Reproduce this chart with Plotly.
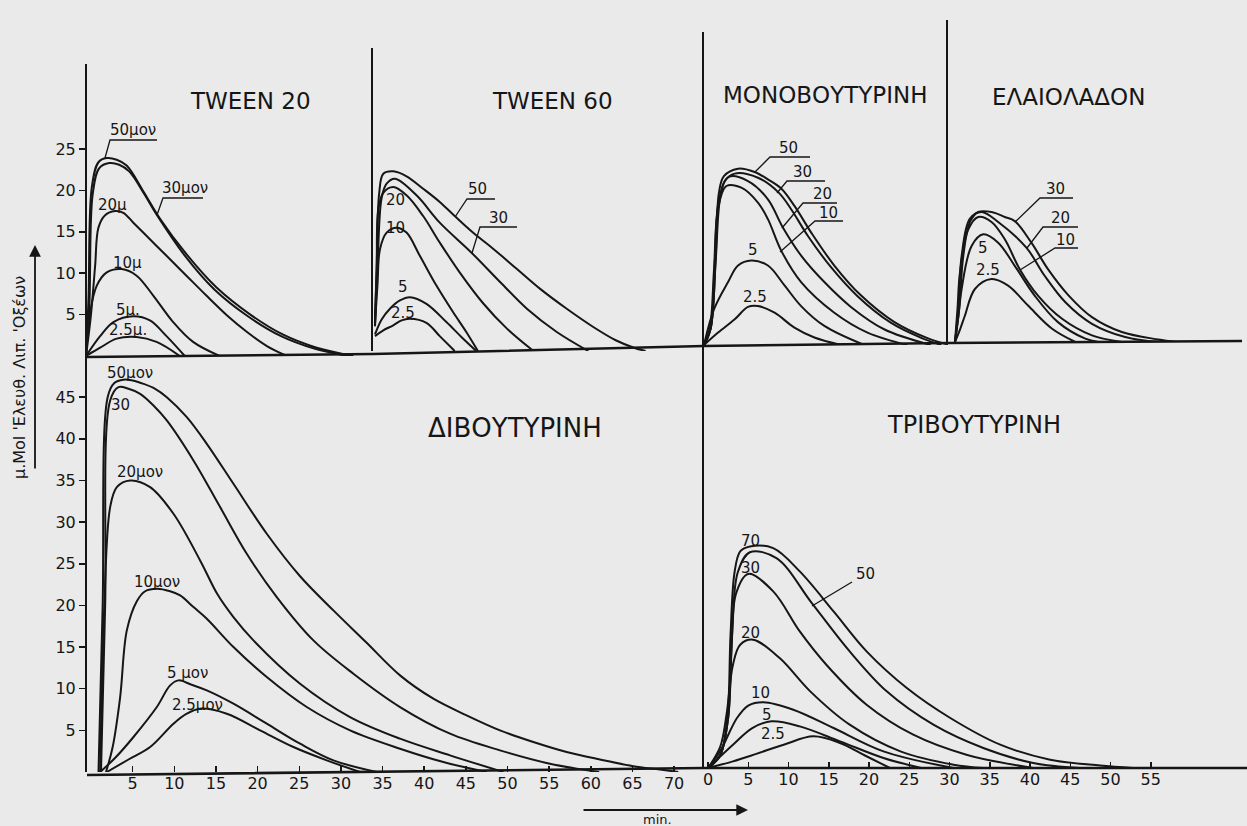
import plotly.graph_objects as go

W, H = 1247, 826
INK = "#161616"
BG = "#eaeaea"
FONT = "DejaVu Sans, Liberation Sans, sans-serif"

# ---------------- data (time in min, value in μMol) ----------------
# TWEEN 20
tw20_50_t = [0, 0.3, 0.7, 1.5, 2.5, 3.7, 4.9, 6.9, 8.9, 12.1, 15.7, 19.8, 23.7, 27.8, 32.2]
tw20_50_y = [0, 6.9, 20.4, 23.4, 23.9, 23.7, 23.0, 19.9, 16.6, 12.3, 8.3, 5.0, 2.6, 1.0, 0]
tw20_30_t = [0, 0.4, 0.8, 1.6, 2.8, 4.0, 5.2, 7.0, 8.5, 12.0, 15.5, 19.5, 23.5, 27.5, 31.5]
tw20_30_y = [0, 6.0, 19.5, 22.7, 23.3, 23.1, 22.3, 19.6, 17.1, 12.0, 8.0, 4.8, 2.4, 0.9, 0]
tw20_20_t = [0, 0.6, 1.1, 1.5, 2.3, 3.5, 4.5, 5.7, 7.7, 9.7, 12.1, 14.5, 17.0, 19.4, 21.8, 24.2]
tw20_20_y = [0, 5.0, 10.9, 15.5, 17.0, 17.5, 17.3, 16.1, 14.1, 12.1, 9.7, 7.3, 4.9, 2.9, 1.2, 0]
tw20_10_t = [0, 0.5, 1.3, 2.5, 4.3, 6.1, 8.1, 10.5, 12.9, 16.1]
tw20_10_y = [0, 5.3, 8.5, 10.1, 10.5, 9.7, 7.3, 4.1, 1.7, 0]
tw20_5_t = [0, 1.7, 3.3, 5.7, 7.7, 9.7, 11.9]
tw20_5_y = [0, 2.4, 4.1, 4.8, 4.3, 2.4, 0]
tw20_25_t = [0, 1.7, 3.7, 6.1, 8.5, 11.3]
tw20_25_y = [0, 1.0, 2.1, 2.3, 1.7, 0]

# TWEEN 60
tw60_50_t = [0, 0.2, 0.5, 1.0, 2.2, 3.8, 5.8, 7.8, 9.6, 11.8, 14.3, 17.1, 19.9, 23.1, 26.3, 29.0, 31.2, 32.6]
tw60_50_y = [3, 10, 19, 21.4, 21.7, 21.1, 19.6, 18.0, 16.3, 14.3, 12.3, 9.9, 7.5, 5.1, 2.9, 1.3, 0.4, 0]
tw60_30_t = [0, 0.3, 0.8, 1.4, 2.4, 5.0, 7.8, 11.6, 15.1, 18.3, 21.9, 25.7]
tw60_30_y = [3, 10, 18.5, 20.2, 20.8, 18.8, 15.5, 11.9, 8.3, 5.1, 2.3, 0]
tw60_20_t = [0, 0.2, 0.4, 1.0, 2.2, 3.8, 5.8, 7.8, 10.2, 13.0, 15.9, 19.1]
tw60_20_y = [4, 10, 17.1, 19.1, 19.8, 18.8, 16.3, 13.1, 9.5, 5.8, 2.7, 0]
tw60_10_t = [0, 0.3, 0.6, 1.4, 2.6, 3.8, 5.4, 7.4, 9.4, 11.0, 12.4]
tw60_10_y = [3.3, 8, 12.3, 14.3, 14.9, 14.3, 11.5, 7.9, 4.7, 2.3, 0]
tw60_5_t = [0, 0.8, 1.8, 3.0, 4.2, 6.2, 8.6, 10.5, 12.2]
tw60_5_y = [2.0, 3.8, 5.1, 6.1, 6.5, 5.7, 3.5, 1.6, 0]
tw60_25_t = [0, 1.0, 2.2, 3.2, 4.2, 6.2, 7.8, 9.6]
tw60_25_y = [1.8, 2.5, 3.1, 3.7, 3.9, 3.4, 1.8, 0]

# ΜΟΝΟΒΟΥΤΥΡΙΝΗ
mono_50_t = [0, 0.8, 1.4, 1.8, 2.4, 4.1, 6.1, 7.7, 9.3, 10.9, 12.9, 15.7, 18.9, 22.9, 27.0, 29.6]
mono_50_y = [0, 2, 10.4, 18.4, 20.4, 21.3, 20.9, 20.0, 18.9, 16.8, 13.6, 9.6, 6.0, 2.8, 0.8, 0]
mono_30_t = [0, 0.8, 1.4, 1.9, 2.5, 3.7, 6.5, 9.0, 10.5, 12.5, 15.3, 18.5, 22.5, 26.1, 28.6]
mono_30_y = [0, 2, 10, 17.5, 19.8, 20.7, 20.2, 18.4, 16.4, 13.2, 9.4, 5.9, 2.7, 0.9, 0]
mono_20_t = [0, 0.8, 1.3, 1.8, 3.0, 5.3, 7.7, 9.5, 11.7, 14.5, 17.7, 21.7, 27.3]
mono_20_y = [0, 2, 10, 17.5, 20.3, 19.8, 17.6, 14.2, 10.8, 7.6, 4.6, 1.9, 0]
mono_10_t = [0, 0.7, 1.2, 1.7, 2.7, 4.5, 6.5, 7.7, 9.3, 11.7, 15.7, 19.7, 24.5]
mono_10_y = [0, 2, 9, 16.5, 19.2, 19.0, 17.2, 15.2, 11.4, 7.6, 3.9, 1.5, 0]
mono_5_t = [0, 1.2, 2.9, 4.1, 5.7, 7.7, 9.7, 11.7, 14.5, 19.3]
mono_5_y = [0, 4.3, 7.6, 9.6, 10.2, 9.6, 7.2, 4.7, 2.3, 0]
mono_25_t = [0, 1.7, 3.7, 5.3, 6.5, 8.5, 10.9, 13.3, 16.5]
mono_25_y = [0, 1.5, 3.1, 4.6, 4.7, 3.9, 2.1, 0.9, 0]

# ΕΛΑΙΟΛΑΔΟΝ
ela_30_t = [0, 0.5, 1.0, 1.8, 2.8, 4.4, 6.0, 7.2, 9.2, 11.2, 13.7, 16.5, 20.1, 24.5, 26.6]
ela_30_y = [0, 4, 10.4, 14.5, 15.7, 15.7, 15.1, 14.6, 12.0, 8.8, 5.6, 3.0, 1.2, 0.3, 0]
ela_20_t = [0, 0.4, 0.8, 1.8, 3.2, 5.2, 8.6, 10.8, 13.3, 16.5, 20.5, 24.5]
ela_20_y = [0, 4, 10.4, 14.9, 15.7, 14.5, 11.4, 8.0, 4.8, 2.2, 0.6, 0]
ela_10_t = [0, 0.3, 0.6, 1.6, 2.8, 4.4, 6.0, 7.8, 10.0, 12.9, 16.5, 20.1]
ela_10_y = [0, 4, 8.4, 13.6, 15.1, 14.5, 12.4, 8.8, 5.6, 2.8, 0.8, 0]
ela_5_t = [0, 0.4, 0.8, 2.0, 3.4, 5.2, 7.2, 9.6, 12.4, 15.7, 17.3]
ela_5_y = [0, 3, 6.4, 11.6, 13.0, 12.0, 9.2, 5.6, 2.4, 0.4, 0]
ela_25_t = [0, 0.6, 1.2, 2.4, 4.4, 6.4, 8.8, 11.7, 14.5]
ela_25_y = [0, 1.5, 3.2, 6.4, 7.6, 6.8, 4.4, 1.6, 0]

# ΔΙΒΟΥΤΥΡΙΝΗ
di_50_t = [0.9, 1.4, 2.0, 2.8, 3.9, 5.0, 6.3, 7.7, 9.1, 11.5, 13.9, 17.1, 21.1, 25.1, 29.1, 33.0, 37.1, 41.1, 45.1, 49.1, 53.1, 57.1, 61.1, 65.1, 68.3, 70.5]
di_50_y = [0, 20, 45.0, 46.7, 47.1, 47.0, 46.6, 46.0, 45.0, 42.6, 39.4, 34.6, 28.6, 23.5, 19.4, 15.6, 11.6, 8.8, 6.8, 5.0, 3.6, 2.4, 1.5, 0.7, 0.3, 0]
di_30_t = [1.2, 1.7, 2.3, 3.3, 4.5, 5.9, 7.5, 9.1, 12.3, 15.5, 18.7, 22.3, 26.7, 31.5, 37.1, 43.1, 49.1, 55.1, 61.0]
di_30_y = [0, 20, 44.6, 46.2, 46.0, 45.4, 44.0, 42.2, 37.4, 31.8, 26.2, 21.0, 15.8, 11.8, 7.8, 4.6, 2.6, 1.0, 0]
di_20_t = [1.1, 1.6, 2.3, 3.1, 4.7, 7.1, 9.9, 13.1, 15.2, 17.1, 19.5, 25.1, 31.1, 37.1, 43.1, 49.5]
di_20_y = [0, 20, 31.8, 34.2, 35.0, 34.2, 31.0, 25.4, 21.3, 18.6, 15.8, 10.6, 6.6, 4.0, 2.0, 0]
di_10_t = [1.8, 2.6, 3.5, 4.3, 5.5, 6.5, 7.9, 9.5, 10.7, 12.3, 13.9, 17.1, 21.1, 25.9, 31.1, 37.1, 42.3, 47.5]
di_10_y = [0, 3, 9, 17, 20.5, 21.7, 22.0, 21.7, 21.2, 19.8, 18.4, 15.0, 11.4, 7.8, 5.0, 2.8, 1.2, 0]
di_5_t = [1.1, 3.0, 5.1, 7.9, 9.5, 10.5, 12.0, 13.9, 17.1, 21.1, 25.1, 29.1, 34.3]
di_5_y = [0, 1.8, 4.2, 7.8, 10.4, 11.0, 10.5, 9.8, 8.2, 5.8, 3.4, 1.4, 0]
di_25_t = [1.9, 4.5, 7.1, 9.9, 11.5, 13.1, 16.3, 20.3, 24.3, 28.3, 32.3]
di_25_y = [0, 1.5, 3.0, 5.8, 7.0, 7.6, 7.0, 5.0, 3.0, 1.4, 0]

# ΤΡΙΒΟΥΤΥΡΙΝΗ
tri_70_t = [0, 1.5, 2.4, 2.8, 3.3, 4.0, 5.2, 8.1, 11.4, 15.6, 19.7, 24.7, 30.1, 36.3, 42.5, 48.7, 52.8]
tri_70_y = [0, 1.5, 6, 16, 23.5, 26.0, 26.6, 26.4, 23.6, 18.8, 14.0, 9.6, 6.0, 2.8, 1.0, 0.3, 0]
tri_50_t = [0, 1.5, 2.5, 3.0, 3.7, 5.2, 8.5, 12.9, 17.6, 22.2, 28.0, 34.2, 40.4, 46.2]
tri_50_y = [0, 1.5, 6, 16, 23.5, 25.9, 25.2, 19.8, 14.0, 9.2, 5.2, 2.4, 0.6, 0]
tri_30_t = [0, 1.5, 2.5, 2.9, 3.5, 5.0, 8.1, 11.4, 14.7, 19.7, 25.5, 32.1, 40.4]
tri_30_y = [0, 1.5, 6, 14, 21, 23.3, 21.2, 16.4, 12.4, 7.6, 4.0, 1.6, 0]
tri_20_t = [0, 1.5, 2.3, 3.1, 4.0, 5.6, 8.9, 12.7, 17.6, 23.9, 30.5, 34.2]
tri_20_y = [0, 2.5, 6.4, 12.4, 14.8, 15.4, 13.2, 9.2, 5.2, 2.0, 0.4, 0]
tri_10_t = [0, 1.5, 3.6, 5.0, 6.9, 10.6, 15.6, 21.8, 30.5]
tri_10_y = [0, 2.0, 6.0, 7.5, 7.9, 7.0, 4.8, 2.0, 0]
tri_5_t = [0, 3.1, 5.5, 7.9, 11.4, 16.4, 21.8, 26.5]
tri_5_y = [0, 2.8, 4.8, 5.6, 5.0, 3.2, 1.2, 0]
tri_25_t = [0, 3.1, 6.0, 9.4, 13.1, 16.4, 19.5, 22.6]
tri_25_y = [0, 0.8, 1.7, 2.8, 3.8, 3.0, 1.5, 0]

# tick labels
y_ticks_top = [5, 10, 15, 20, 25]
y_ticks_bottom = [5, 10, 15, 20, 25, 30, 35, 40, 45]
x_ticks_di = [5, 10, 15, 20, 25, 30, 35, 40, 45, 50, 55, 60, 65, 70]
x_ticks_tri = [0, 5, 10, 15, 20, 25, 30, 35, 40, 45, 50, 55]

# ---------------- layout geometry (pixels) ----------------
# key, left, right, t=0 px, px per min, baseline px, top px, px per unit
PANELS = [
    ("tw20", 87, 373, 86, 8.3, 356, 64, 8.28),
    ("tw60", 373, 704, 375, 8.3, 351, 48, 8.28),
    ("mono", 704, 948, 704, 8.3, 345, 32, 8.28),
    ("ela", 948, 1242, 955, 8.3, 342, 20, 8.28),
    ("di", 87, 704, 91, 8.33, 772, 356, 8.33),
    ("tri", 704, 1247, 708, 8.05, 768, 345, 8.33),
]
AX = {p[0]: i + 1 for i, p in enumerate(PANELS)}

SERIES = [
    ("tw20", tw20_50_t, tw20_50_y), ("tw20", tw20_30_t, tw20_30_y), ("tw20", tw20_20_t, tw20_20_y),
    ("tw20", tw20_10_t, tw20_10_y), ("tw20", tw20_5_t, tw20_5_y), ("tw20", tw20_25_t, tw20_25_y),
    ("tw60", tw60_50_t, tw60_50_y), ("tw60", tw60_30_t, tw60_30_y), ("tw60", tw60_20_t, tw60_20_y),
    ("tw60", tw60_10_t, tw60_10_y), ("tw60", tw60_5_t, tw60_5_y), ("tw60", tw60_25_t, tw60_25_y),
    ("mono", mono_50_t, mono_50_y), ("mono", mono_30_t, mono_30_y), ("mono", mono_20_t, mono_20_y),
    ("mono", mono_10_t, mono_10_y), ("mono", mono_5_t, mono_5_y), ("mono", mono_25_t, mono_25_y),
    ("ela", ela_30_t, ela_30_y), ("ela", ela_20_t, ela_20_y), ("ela", ela_10_t, ela_10_y),
    ("ela", ela_5_t, ela_5_y), ("ela", ela_25_t, ela_25_y),
    ("di", di_50_t, di_50_y), ("di", di_30_t, di_30_y), ("di", di_20_t, di_20_y),
    ("di", di_10_t, di_10_y), ("di", di_5_t, di_5_y), ("di", di_25_t, di_25_y),
    ("tri", tri_70_t, tri_70_y), ("tri", tri_50_t, tri_50_y), ("tri", tri_30_t, tri_30_y),
    ("tri", tri_20_t, tri_20_y), ("tri", tri_10_t, tri_10_y), ("tri", tri_5_t, tri_5_y),
    ("tri", tri_25_t, tri_25_y),
]


def fx(px):
    return px / W


def fy(py):
    return 1 - py / H


fig = go.Figure()

for key, ts, ys in SERIES:
    i = AX[key]
    fig.add_trace(go.Scatter(
        x=ts, y=ys, mode="lines",
        line=dict(color=INK, width=2, shape="spline", smoothing=1.0),
        xaxis="x" if i == 1 else f"x{i}", yaxis="y" if i == 1 else f"y{i}",
        hoverinfo="skip", showlegend=False))

layout = dict(
    width=W, height=H, autosize=False,
    margin=dict(l=0, r=0, t=0, b=0, pad=0),
    paper_bgcolor=BG, plot_bgcolor="rgba(0,0,0,0)",
    font=dict(family=FONT, color=INK, size=16),
    showlegend=False,
)

for key, left, right, t0, ppm, base, top, ppu in PANELS:
    i = AX[key]
    xa = dict(
        domain=[fx(left), fx(right)],
        range=[(left - t0) / ppm, (right - t0) / ppm],
        anchor="y" if i == 1 else f"y{i}",
        showline=False, showgrid=False, zeroline=False,
        showticklabels=False, ticks="", fixedrange=True,
    )
    ya = dict(
        domain=[fy(base), fy(top)],
        range=[0, (base - top) / ppu],
        anchor="x" if i == 1 else f"x{i}",
        showline=True, linecolor=INK, linewidth=2,
        showgrid=False, zeroline=False,
        showticklabels=False, ticks="", fixedrange=True,
    )
    if key in ("di", "tri"):
        xa.update(tickmode="array", tickvals=x_ticks_di if key == "di" else x_ticks_tri,
                  showticklabels=True, ticks="inside", ticklen=6, tickwidth=1.5,
                  tickcolor=INK, tickfont=dict(size=16, color=INK, family=FONT))
    if key in ("tw20", "di"):
        ya.update(tickmode="array", tickvals=y_ticks_top if key == "tw20" else y_ticks_bottom,
                  showticklabels=True, ticks="outside", ticklen=6, tickwidth=1.5,
                  tickcolor=INK, tickfont=dict(size=16, color=INK, family=FONT))
    layout["xaxis" if i == 1 else f"xaxis{i}"] = xa
    layout["yaxis" if i == 1 else f"yaxis{i}"] = ya

fig.update_layout(**layout)


def path(pts):
    return "M " + " L ".join(f"{fx(a):.5f},{fy(b):.5f}" for a, b in pts)


# baselines (slightly tilted in the scan)
shapes = [
    dict(type="path", xref="paper", yref="paper",
         path=path([(87, 357), (373, 354), (704, 346), (948, 343), (1242, 341)]),
         line=dict(color=INK, width=2.6)),
    dict(type="path", xref="paper", yref="paper",
         path=path([(87, 775), (704, 768), (1247, 768)]),
         line=dict(color=INK, width=2.6)),
]

LEADERS = [
    [(105, 158), (110, 140), (157, 140)],
    [(157, 215), (163, 198), (203, 198)],
    [(455, 217), (467, 199), (495, 199)],
    [(472, 253), (480, 227), (517, 227)],
    [(755, 172), (770, 157), (810, 157)],
    [(777, 193), (787, 181), (825, 181)],
    [(782, 228), (803, 203), (837, 203)],
    [(780, 252), (815, 221), (843, 221)],
    [(1015, 222), (1040, 198), (1073, 198)],
    [(1027, 248), (1043, 227), (1078, 227)],
    [(1020, 270), (1055, 248), (1078, 248)],
    [(812, 606), (852, 582)],
]
for pts in LEADERS:
    shapes.append(dict(type="path", xref="paper", yref="paper", path=path(pts),
                       line=dict(color=INK, width=1.3)))
fig.update_layout(shapes=shapes)

annotations = []


def label(text, px, py, size=15, angle=0):
    annotations.append(dict(text=text, x=fx(px), y=fy(py), xref="paper", yref="paper",
                            showarrow=False, xanchor="center", yanchor="middle",
                            textangle=angle, font=dict(size=size, color=INK, family=FONT)))


# titles
label("TWEEN 20", 250, 101, 23)
label("TWEEN 60", 552, 101, 23)
label("ΜΟΝΟΒΟΥΤΥΡΙΝΗ", 825, 95, 23)
label("ΕΛΑΙΟΛΑΔΟΝ", 1068, 97, 23)
label("ΔΙΒΟΥΤΥΡΙΝΗ", 515, 428, 26)
label("ΤΡΙΒΟΥΤΥΡΙΝΗ", 974, 425, 24)

# curve labels
for t, a, b in [("50μον", 133, 130), ("30μον", 185, 188), ("20μ", 112, 205), ("10μ", 127, 263),
                ("5μ.", 128, 310), ("2.5μ.", 128, 330),
                ("50", 477, 189), ("30", 498, 218), ("20", 395, 200), ("10", 395, 228),
                ("5", 403, 287), ("2.5", 403, 313),
                ("50", 788, 148), ("30", 802, 172), ("20", 822, 194), ("10", 828, 213),
                ("5", 753, 250), ("2.5", 755, 297),
                ("30", 1055, 189), ("20", 1060, 218), ("10", 1065, 240), ("5", 983, 248),
                ("2.5", 988, 270),
                ("50μον", 130, 373), ("30", 120, 405), ("20μον", 140, 472), ("10μον", 157, 582),
                ("5 μον", 187, 673), ("2.5μον", 197, 705),
                ("70", 750, 541), ("30", 750, 568), ("50", 865, 574), ("20", 750, 633),
                ("10", 760, 693), ("5", 767, 715), ("2.5", 773, 734)]:
    label(t, a, b, 15)

# axis titles
label("μ.Mol 'Ελευθ. Λιπ. 'Οξέων", 19, 378, 16, -90)
label("min.", 657, 819, 13)

# arrows
annotations.append(dict(text="", x=fx(35), y=fy(245), xref="paper", yref="paper",
                        ax=0, ay=225, axref="pixel", ayref="pixel",
                        showarrow=True, arrowhead=2, arrowsize=1.3, arrowwidth=1.8,
                        arrowcolor=INK))
annotations.append(dict(text="", x=fx(748), y=fy(810), xref="paper", yref="paper",
                        ax=-166, ay=0, axref="pixel", ayref="pixel",
                        showarrow=True, arrowhead=2, arrowsize=1.3, arrowwidth=1.8,
                        arrowcolor=INK))

fig.update_layout(annotations=annotations)

fig.write_html("out.html", include_plotlyjs=True, full_html=True,
               config={"displayModeBar": False, "staticPlot": True})
